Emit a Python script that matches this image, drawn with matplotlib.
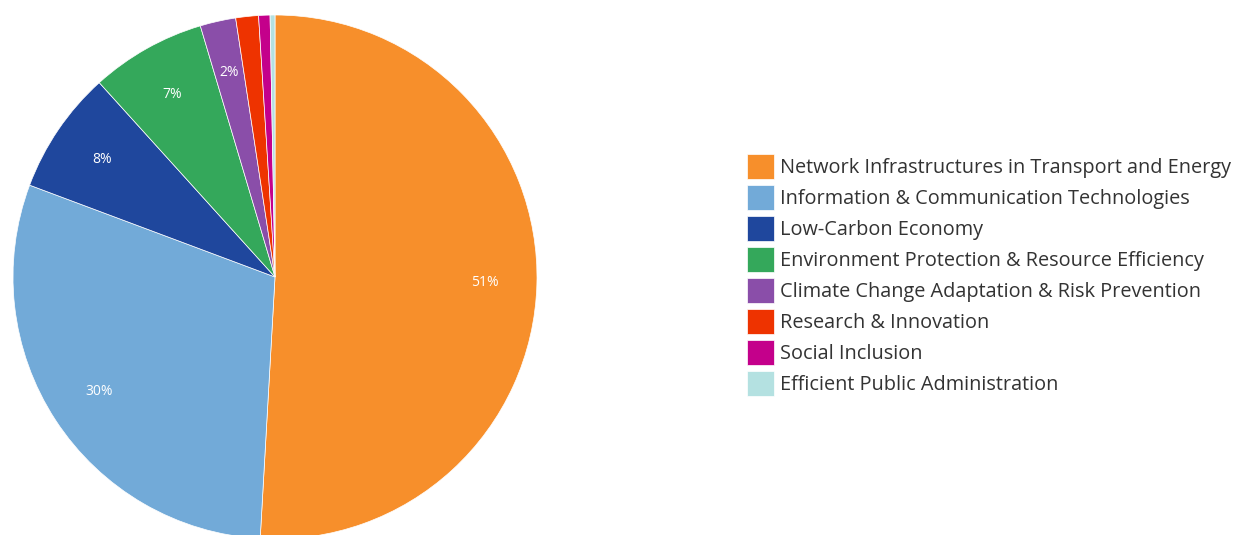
import matplotlib
matplotlib.use('Agg')
from matplotlib import pyplot as plt
from matplotlib.patches import Patch

plt.rcParams['font.family'] = ['Open Sans', 'DejaVu Sans']

categories = ['Network Infrastructures in Transport and Energy',
              'Information & Communication Technologies',
              'Low-Carbon Economy',
              'Environment Protection & Resource Efficiency',
              'Climate Change Adaptation & Risk Prevention',
              'Research & Innovation',
              'Social Inclusion',
              'Efficient Public Administration']
shares = [50.9, 29.8, 7.6, 7.1, 2.2, 1.4, 0.7, 0.3]
colors = ['#F78F2B', '#72AAD8', '#1F479D', '#34A85B', '#8A4EA9', '#EE3300', '#C4008B', '#B4E1E1']


def pct_label(p):
    # only the bigger slices get a label
    return '%.0f%%' % p if p >= 1.95 else ''


fig = plt.figure(figsize=(12.33, 5.35), dpi=100)
W, H = 1233.0, 535.0
cx, cy, r = 275.0, 277.0, 262.0
ax = fig.add_axes([(cx - r) / W, (H - cy - r) / H, 2 * r / W, 2 * r / H])

wedges, texts, autotexts = ax.pie(shares, colors=colors, startangle=90, counterclock=False,
                                  autopct=pct_label, pctdistance=0.8, radius=1.0,
                                  wedgeprops=dict(edgecolor='white', linewidth=0.5))
for t in autotexts:
    t.set_color('white')
    t.set_fontsize(10)
ax.set_xlim(-1, 1)
ax.set_ylim(-1, 1)
ax.set_aspect('equal')
ax.axis('off')

handles = [Patch(facecolor=c, edgecolor='white', linewidth=0.5) for c in colors]
fig.legend(handles, categories, loc='upper left', bbox_to_anchor=(747 / W, 1 - 154 / H),
           frameon=False, fontsize=14.3, handlelength=1.38, handleheight=1.59,
           handletextpad=0.28, labelspacing=0.28, borderpad=0, borderaxespad=0,
           labelcolor='#333333')

plt.savefig('out.png', dpi=100)
